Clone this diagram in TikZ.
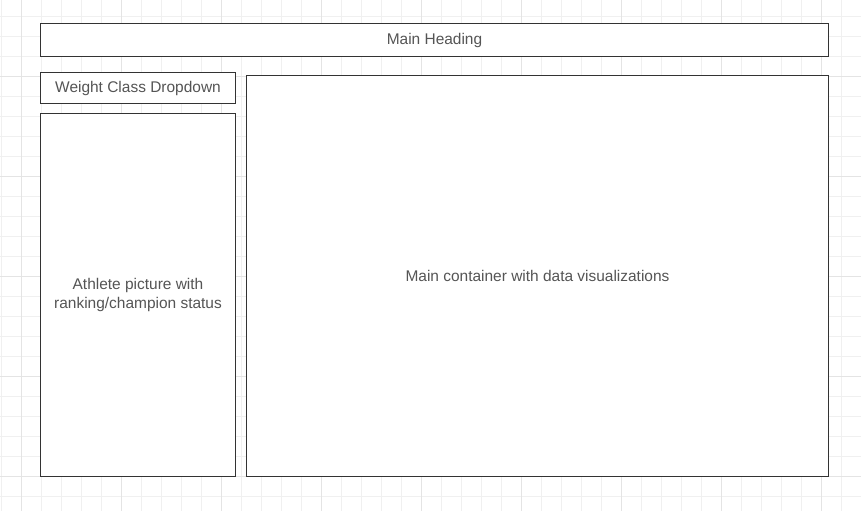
\documentclass[tikz,border=0pt]{standalone}
\usepackage{fontspec}
\setmainfont{Liberation Sans}
\usepackage{xcolor}
\usetikzlibrary{positioning}

\definecolor{gridminor}{HTML}{F0F0F0}
\definecolor{gridmajor}{HTML}{E4E4E4}
\definecolor{boxline}{HTML}{333333}
\definecolor{boxtext}{HTML}{555555}

\begin{document}
\begin{tikzpicture}[
    x=0.75pt, y=0.75pt,
    grid_minor/.style={gridminor, line width=0.75pt},
    grid_major/.style={gridmajor, line width=0.75pt},
    box/.style={draw=boxline, fill=white, line width=0.75pt, inner sep=0pt, anchor=north west, align=center, text=boxtext, font=\fontsize{11.6}{14.25}\selectfont},
    size/.style 2 args={minimum width={#1*0.75pt}, minimum height={#2*0.75pt}}
]
    % Canvas
    \fill[white] (0,0) rectangle (861,-511);
    \useasboundingbox (0,0) rectangle (861,-511);

    % Grid
    \foreach \gx in {1,21,...,861} \draw[grid_minor] (\gx,0) -- (\gx,-511);
    \foreach \gy in {16,36,...,511} \draw[grid_minor] (0,-\gy) -- (861,-\gy);
    \foreach \gx in {21,121,...,861} \draw[grid_major] (\gx,0) -- (\gx,-511);
    \foreach \gy in {76,176,...,511} \draw[grid_major] (0,-\gy) -- (861,-\gy);

    % Layout boxes
    \node[box, size={788}{33}] (heading) at (40,-23) {Main Heading};
    \node[box, size={195}{31}] (dropdown) at (40,-72) {Weight Class Dropdown};
    \node[box, size={195}{363}] (athlete) at (40,-113) {Athlete picture with\\ranking/champion status};
    \node[box, size={582}{401}] (container) at (246,-75) {Main container with data visualizations};

\end{tikzpicture}
\end{document}
